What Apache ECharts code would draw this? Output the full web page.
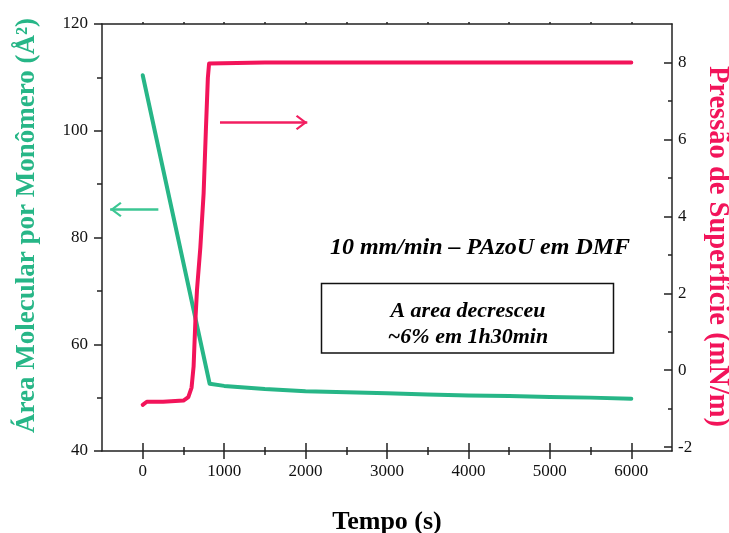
<!DOCTYPE html>
<html>
<head>
<meta charset="utf-8">
<script src="https://cdn.jsdelivr.net/npm/echarts@6/dist/echarts.min.js"></script>
<style>
  html, body { margin: 0; padding: 0; background: #fff; }
  #chart { width: 729px; height: 533px; }
</style>
</head>
<body>
<div id="chart"></div>
<script>
// Molecular area (left axis) vs. time
const areaTime   = [0, 822, 1000, 1500, 2000, 2500, 3000, 3500, 4000, 4500, 5000, 5500, 6000];
const areaValues = [110.4, 52.6, 52.2, 51.6, 51.2, 51.0, 50.8, 50.6, 50.4, 50.3, 50.1, 50.0, 49.8];

// Surface pressure (right axis) vs. time
const pressTime   = [0, 50, 250, 500, 560, 600, 625, 647, 667, 708, 748, 775, 800, 815, 830, 1500, 3000, 4500, 6000];
const pressValues = [-0.9, -0.82, -0.82, -0.79, -0.7, -0.45, 0.1, 1.3, 2.1, 3.2, 4.6, 6.2, 7.6, 7.97, 8.0, 8.0, 8.0, 8.0, 8.0];

// Tick positions
const xMajor = [0, 1000, 2000, 3000, 4000, 5000, 6000];
const xMinor = [500, 1500, 2500, 3500, 4500, 5500];
const xAll = [0, 500, 1000, 1500, 2000, 2500, 3000, 3500, 4000, 4500, 5000, 5500, 6000];
const rightMajor = [-2, 0, 2, 4, 6, 8];
const rightMinor = [-1, 1, 3, 5, 7];

// Text
const xTitle = 'Tempo (s)';
const leftTitle = 'Área Molecular por Monômero (Å²)';
const rightTitle = 'Pressão de Superfície (mN/m)';
const headline = '10 mm/min – PAzoU em DMF';
const boxLines = ['A area decresceu', '~6% em 1h30min'];

// Direction arrows: [x0, x1, y] in data units
const areaArrow = [192, -400, 85.26];
const pressArrow = [949, 2021, 6.44];

const GREEN = '#27b687';
const PINK = '#f2145a';
const AXIS = '#222';
const FONT = '"Liberation Serif", "DejaVu Serif", serif';

const zip = (a, b) => a.map((v, i) => [v, b[i]]);
const plain = (v) => String(v);

// Open chevron arrow head, tip at the symbol centre
const CHEVRON = 'path://M0,-11.5 L0.01,-11.5 L0,-11.49 Z M0,0 L7.5,10 L6,11.5 L0,3.5 L-6,11.5 L-7.5,10 Z';

const tickStyle = { color: AXIS, width: 1.5 };

function xAxisBase(extra) {
  return Object.assign({
    type: 'value', min: -500, max: 6500, position: 'bottom',
    axisLine: { show: false, onZero: false, lineStyle: tickStyle },
    axisTick: { show: false },
    axisLabel: { show: false },
    splitLine: { show: false }
  }, extra);
}

const chart = echarts.init(document.getElementById('chart'), null, { renderer: 'canvas' });

chart.setOption({
  animation: false,
  backgroundColor: '#fff',
  grid: { left: 102, right: 57, top: 24, bottom: 82, containLabel: false, outerBoundsMode: 'none' },
  xAxis: [
    xAxisBase({
      axisLine: { show: true, onZero: false, lineStyle: tickStyle },
      axisTick: { show: true, customValues: xMajor, length: 8, inside: false, lineStyle: tickStyle },
      axisLabel: { show: true, customValues: xMajor, formatter: plain, margin: 12, color: '#111', fontFamily: FONT, fontSize: 17 },
      name: xTitle, nameLocation: 'middle', nameGap: 58,
      nameTextStyle: { fontFamily: FONT, fontWeight: 'bold', fontSize: 26, color: '#000' }
    }),
    xAxisBase({
      axisTick: { show: true, customValues: xMajor, length: 8, inside: true, lineStyle: tickStyle }
    }),
    xAxisBase({
      axisTick: { show: true, customValues: xMinor, length: 4, inside: false, lineStyle: tickStyle }
    }),
    xAxisBase({
      axisTick: { show: true, customValues: xMinor, length: 4, inside: true, lineStyle: tickStyle }
    }),
    xAxisBase({
      position: 'top',
      axisLine: { show: true, onZero: false, lineStyle: tickStyle },
      axisTick: { show: true, customValues: xAll, length: 2, inside: false, lineStyle: tickStyle }
    })
  ],
  yAxis: [
    {
      type: 'value', min: 40, max: 120, interval: 20, position: 'left',
      axisLine: { show: true, onZero: false, lineStyle: tickStyle },
      axisTick: { show: true, length: 8, inside: false, lineStyle: tickStyle },
      minorTick: { show: true, splitNumber: 2, length: 5, lineStyle: tickStyle },
      axisLabel: { margin: 14, formatter: plain, color: '#111', fontFamily: FONT, fontSize: 17 },
      splitLine: { show: false },
      name: leftTitle, nameLocation: 'middle', nameGap: 61,
      nameTextStyle: { fontFamily: FONT, fontWeight: 'bold', fontSize: 27, color: GREEN, padding: [0, 0, 0, 24] }
    },
    {
      type: 'value', min: -2.1, max: 9, position: 'right',
      axisLine: { show: true, onZero: false, lineStyle: tickStyle },
      axisTick: { show: true, customValues: rightMajor, length: 8, inside: true, lineStyle: tickStyle },
      axisLabel: { customValues: rightMajor, formatter: plain, margin: 6, color: '#111', fontFamily: FONT, fontSize: 17 },
      splitLine: { show: false },
      name: rightTitle, nameLocation: 'middle', nameGap: 21, nameRotate: -90,
      nameTextStyle: { fontFamily: FONT, fontWeight: 'bold', fontSize: 28.5, color: PINK, padding: [0, 0, 0, 18] }
    },
    {
      type: 'value', min: -2.1, max: 9, position: 'right',
      axisLine: { show: false, onZero: false },
      axisTick: { show: true, customValues: rightMinor, length: 4, inside: true, lineStyle: tickStyle },
      axisLabel: { show: false },
      splitLine: { show: false }
    }
  ],
  series: [
    {
      name: 'area', type: 'line', xAxisIndex: 0, yAxisIndex: 0,
      data: zip(areaTime, areaValues),
      showSymbol: false, symbol: 'none',
      lineStyle: { color: GREEN, width: 4, cap: 'round', join: 'round' },
      markLine: {
        silent: true, animation: false,
        symbol: ['none', CHEVRON], symbolSize: [15, 23],
        label: { show: false },
        lineStyle: { color: '#3cc693', width: 2.5, type: 'solid' },
        data: [[{ coord: [areaArrow[0], areaArrow[2]] }, { coord: [areaArrow[1], areaArrow[2]] }]]
      }
    },
    {
      name: 'pressure', type: 'line', xAxisIndex: 0, yAxisIndex: 1,
      data: zip(pressTime, pressValues),
      showSymbol: false, symbol: 'none',
      lineStyle: { color: PINK, width: 4, cap: 'round', join: 'round' },
      markLine: {
        silent: true, animation: false,
        symbol: ['none', CHEVRON], symbolSize: [15, 23],
        label: { show: false },
        lineStyle: { color: '#f21e60', width: 2.5, type: 'solid' },
        data: [[{ coord: [pressArrow[0], pressArrow[2]] }, { coord: [pressArrow[1], pressArrow[2]] }]]
      }
    }
  ],
  graphic: [
    {
      type: 'text', x: 480, y: 248,
      style: {
        text: headline, fill: '#000', align: 'center', verticalAlign: 'middle',
        font: 'italic bold 24px ' + FONT
      }
    },
    {
      type: 'rect',
      shape: { x: 321.5, y: 283.5, width: 292, height: 69.5 },
      style: { fill: '#fff', stroke: '#111', lineWidth: 1.5 }
    },
    {
      type: 'text', x: 468, y: 311,
      style: {
        text: boxLines[0], fill: '#000', align: 'center', verticalAlign: 'middle',
        font: 'italic bold 22px ' + FONT
      }
    },
    {
      type: 'text', x: 468, y: 337,
      style: {
        text: boxLines[1], fill: '#000', align: 'center', verticalAlign: 'middle',
        font: 'italic bold 22px ' + FONT
      }
    }
  ]
});
</script>
</body>
</html>
